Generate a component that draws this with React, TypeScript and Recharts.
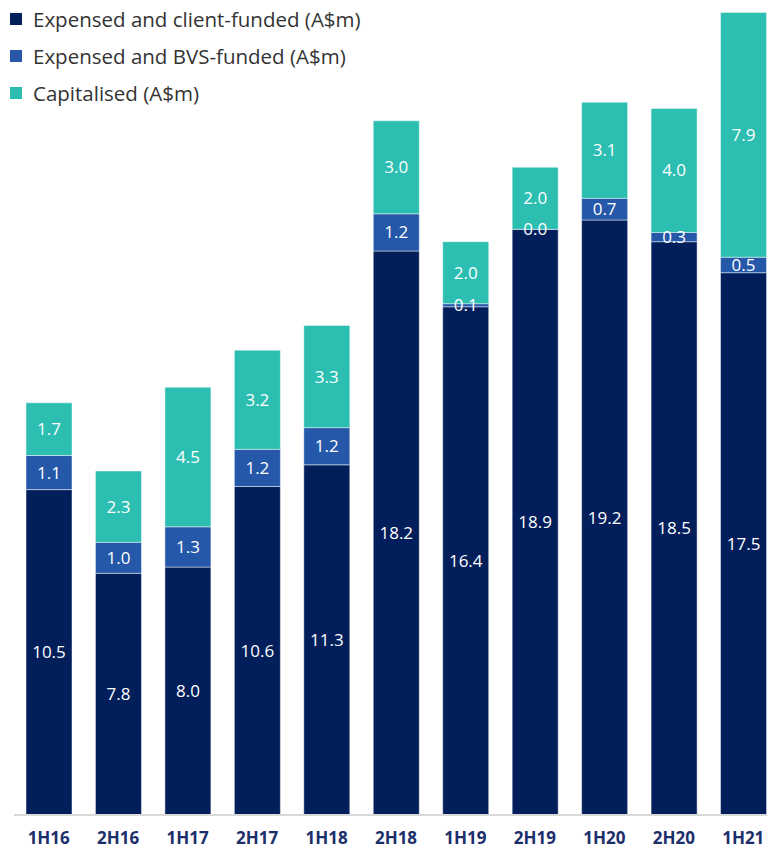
import React from 'react';
import { BarChart, Bar, XAxis, YAxis, Legend, LabelList } from 'recharts';

const periods = ['1H16', '2H16', '1H17', '2H17', '1H18', '2H18', '1H19', '2H19', '1H20', '2H20', '1H21'];
const clientFunded = [10.5, 7.8, 8.0, 10.6, 11.3, 18.2, 16.4, 18.9, 19.2, 18.5, 17.5];
const bvsFunded = [1.1, 1.0, 1.3, 1.2, 1.2, 1.2, 0.1, 0.0, 0.7, 0.3, 0.5];
const capitalised = [1.7, 2.3, 4.5, 3.2, 3.3, 3.0, 2.0, 2.0, 3.1, 4.0, 7.9];

const series = [
	{ key: 'client', name: 'Expensed and client-funded (A$m)', color: '#021F5C' },
	{ key: 'bvs', name: 'Expensed and BVS-funded (A$m)', color: '#2558A9' },
	{ key: 'cap', name: 'Capitalised (A$m)', color: '#2BBEB1' },
];

const data = periods.map((p, i) => ({
	period: p,
	client: clientFunded[i],
	bvs: bvsFunded[i],
	cap: capitalised[i],
}));

const font = '"Open Sans", sans-serif';

function LegendBox() {
	return (
		<div style={{ fontFamily: font }}>
			{series.map((s) => (
				<div key={s.key} style={{ display: 'flex', alignItems: 'center', height: 37 }}>
					<span style={{ width: 12, height: 12, background: s.color, marginLeft: 10, marginRight: 11 }} />
					<span style={{ fontSize: 20.5, color: '#333' }}>{s.name}</span>
				</div>
			))}
		</div>
	);
}

export default function App() {
	return (
		<div style={{ position: 'absolute', left: 0, top: 0, width: 767, height: 848, overflow: 'hidden', background: '#fff' }}>
			<BarChart width={778} height={848} data={data} margin={{ top: 0, right: 0, left: 14, bottom: 0 }} barSize={46}>
				<XAxis
					dataKey="period"
					height={33}
					tickLine={false}
					tickMargin={11}
					axisLine={{ stroke: '#D9D9D9', strokeWidth: 2 }}
					tick={{ fill: '#1C2F6B', fontSize: 17, fontWeight: 700, fontFamily: font }}
					interval={0}
				/>
				<YAxis hide domain={[0, 26.3]} />
				<Legend
					layout="vertical"
					align="center"
					verticalAlign="middle"
					wrapperStyle={{ top: 0, left: 0, width: 'auto' }}
					content={() => <LegendBox />}
				/>
				{series.map((s) => (
					<Bar
						key={s.key}
						dataKey={s.key}
						name={s.name}
						stackId="a"
						fill={s.color}
						stroke="rgba(255,255,255,0.45)"
						strokeWidth={1}
						minPointSize={1}
						isAnimationActive={false}
					>
						<LabelList
							dataKey={s.key}
							position="center"
							fill="#fff"
							fontSize={17}
							fontFamily={font}
							formatter={(v: number) => v.toFixed(1)}
						/>
					</Bar>
				))}
			</BarChart>
		</div>
	);
}
